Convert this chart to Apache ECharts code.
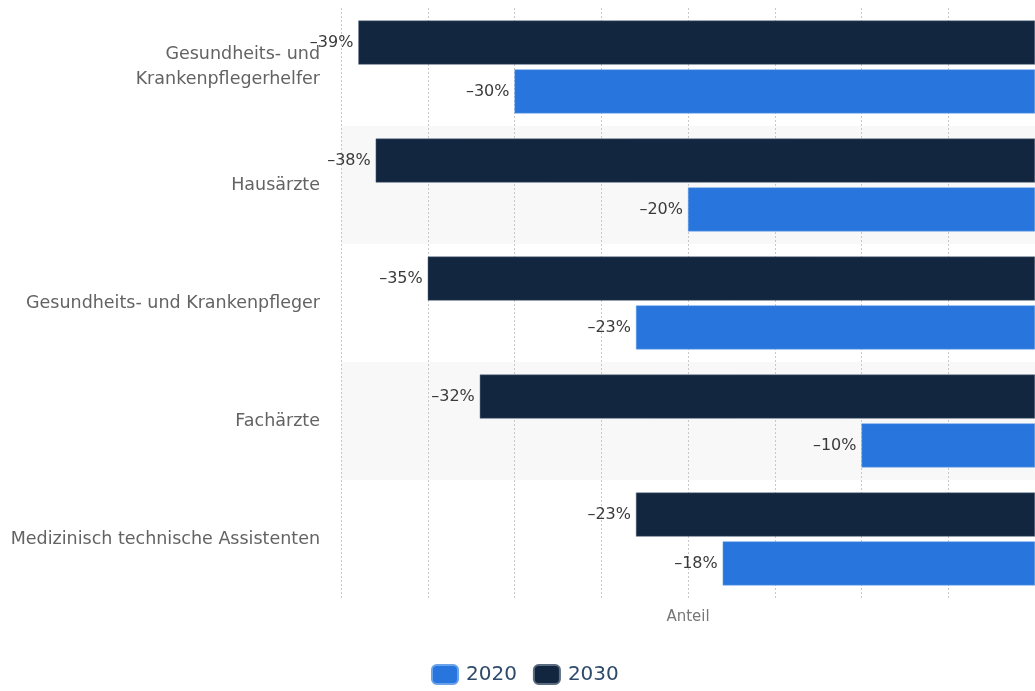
<!DOCTYPE html>
<html><head><meta charset="utf-8">
<script src="https://cdn.jsdelivr.net/npm/echarts@6/dist/echarts.min.js"></script>
<style>html,body{margin:0;padding:0;background:#fff}#c{width:1035px;height:691px}</style>
</head><body><div id="c"></div>
<script>
const categories = ['Gesundheits- und\nKrankenpflegerhelfer', 'Hausärzte', 'Gesundheits- und Krankenpfleger', 'Fachärzte', 'Medizinisch technische Assistenten'];
const values2020 = [-30, -20, -23, -10, -18];
const values2030 = [-39, -38, -35, -32, -23];
const FONT = 'DejaVu Sans';
const chart = echarts.init(document.getElementById('c'));
const label = {
  show: true, position: 'left', distance: 5,
  color: '#3a3a3a', fontSize: 16, fontFamily: FONT,
  formatter: p => '\u2013' + Math.abs(p.value) + '%'
};
chart.setOption({
  animation: false,
  textStyle: { fontFamily: FONT },
  grid: { left: 341, right: -2, top: 8, bottom: 93, containLabel: false },
  legend: {
    data: ['2020', '2030'], bottom: 1, left: 426,
    itemWidth: 26, itemHeight: 19, itemGap: 16, icon: 'roundRect',
    textStyle: { color: '#2e4a6b', fontSize: 20, fontFamily: FONT, padding: [0, 0, 0, 3] }
  },
  xAxis: {
    type: 'value', min: -40, max: 0, interval: 5,
    name: 'Anteil', nameLocation: 'middle', nameGap: 12,
    nameTextStyle: { color: '#777', fontSize: 15, fontFamily: FONT },
    axisLabel: { show: false }, axisTick: { show: false }, axisLine: { show: false },
    splitLine: { show: true, lineStyle: { color: '#c8c8c8', type: [2, 2], width: 1 } }
  },
  yAxis: {
    type: 'category', data: categories, inverse: true,
    axisLine: { show: false }, axisTick: { show: false },
    axisLabel: { color: '#636363', fontSize: 17.5, fontFamily: FONT, margin: 21, lineHeight: 25, align: 'right' },
    splitArea: { show: true, areaStyle: { color: ['rgba(255,255,255,0)', '#f8f8f8'] } }
  },
  series: [
    { name: '2030', type: 'bar', data: values2030, barWidth: 44, barGap: '11%',
      itemStyle: { color: '#12263f', borderColor: '#5b6b80', borderWidth: 0.5 }, label },
    { name: '2020', type: 'bar', data: values2020, barWidth: 44, barGap: '11%',
      itemStyle: { color: '#2876dd', borderColor: '#6aa3ea', borderWidth: 0.5 }, label }
  ]
});
</script></body></html>
